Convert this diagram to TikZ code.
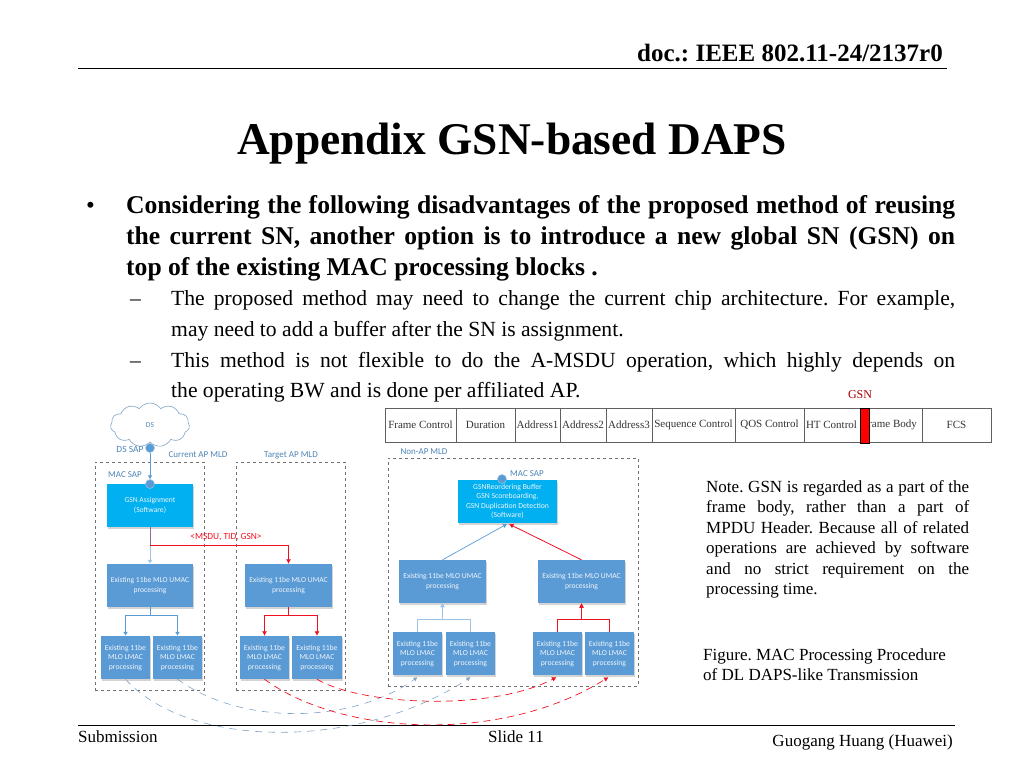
\documentclass[tikz,border=0pt]{standalone}
\usepackage{fontspec}
\setmainfont{Liberation Serif}
\newfontfamily\crl{Carlito}
\usetikzlibrary{shapes.symbols,shadows,arrows.meta}
\definecolor{bbox}{HTML}{5B9BD5}
\definecolor{cbox}{HTML}{00B0F0}
\definecolor{redl}{HTML}{F01020}
\definecolor{bludash}{HTML}{7FA3C7}
\definecolor{mgray}{HTML}{707070}
\definecolor{cgray}{HTML}{606060}
\definecolor{lbl}{HTML}{9DC3E6}
\tikzset{
 umac/.style={fill=bbox,text=white!90!bbox,inner sep=0pt,align=center,font=\crl\fontsize{7.6}{10}\selectfont,drop shadow={opacity=.35,shadow xshift=1pt,shadow yshift=-1.5pt}},
 softbox/.style={umac,fill=cbox},
 lmac/.style={umac,font=\crl\fontsize{7.7}{9.5}\selectfont},
 mld/.style={draw,color=mgray,dashed,line width=.8pt,inner sep=0pt},
 lab/.style={text=bbox!85!black,inner sep=0pt,font=\crl\fontsize{9}{10}\selectfont},
 sap/.style={circle,fill=bbox,draw=lbl,line width=.5pt,minimum size=9pt,inner sep=0pt},
 cell/.style={draw=cgray,line width=.8pt,fill=white,inner sep=0pt,text=black!80,font=\fontsize{11}{12}\selectfont},
 head/.style={anchor=base west,inner sep=0pt,font=\bfseries\fontsize{25.6}{28}\selectfont},
 sub/.style={anchor=base west,inner sep=0pt,font=\fontsize{21.6}{25}\selectfont},
 note/.style={anchor=base west,inner sep=0pt,font=\fontsize{17}{18}\selectfont},
 foot/.style={inner sep=0pt,font=\fontsize{17}{18}\selectfont},
 bline/.style={draw,color=bbox,line width=.9pt,-{Latex[length=4pt,width=5pt]}},
 lblue/.style={draw,color=lbl,line width=.9pt,-{Latex[length=4pt,width=5pt]}},
 rline/.style={draw,color=redl,line width=.8pt,-{Latex[length=4.5pt,width=5pt]}},
 bdash/.style={draw,color=bludash,line width=.6pt,dash pattern=on 7pt off 6pt,-{Latex[length=4pt,width=4.5pt]}},
 rdash/.style={draw,color=redl,line width=.7pt,dash pattern=on 7pt off 5pt,-{Latex[length=4.5pt,width=5pt]}},
}
\newcommand{\rb}[7]{\node[#6,minimum width={(#4-#2)*1pt},minimum height={(#5-#3)*1pt}] (#1) at ({(#2+#4)/2},{(#3+#5)/2}) {#7};}
\begin{document}
\frenchspacing
\begin{tikzpicture}[x=1pt,y=-1pt]
\useasboundingbox (0,0) rectangle (1024,768);
% header and footer
\node[anchor=base east,inner sep=0pt,font=\bfseries\fontsize{25}{28}\selectfont] (docid) at (943,62) {doc.: IEEE 802.11-24/2137r0};
\coordinate (hl) at (78,68); \coordinate (hr) at (947,68);
\draw[line width=1pt] (hl) -- (hr);
\node[anchor=base,inner sep=0pt,font=\bfseries\fontsize{45.4}{50}\selectfont] (title) at (512,154) {Appendix GSN-based DAPS};
\node[head,font=\fontsize{25}{28}\selectfont] (bul) at (86,213) {•};
\node[head] (l1) at (126,213) {\makebox[829pt][s]{Considering the following disadvantages of the proposed method of reusing}};
\node[head] (l2) at (126,244) {\makebox[829pt][s]{the current SN, another option is to introduce a new global SN (GSN) on}};
\node[head] (l3) at (126,275) {top of the existing MAC processing blocks .};
\node[sub] (d1) at (130,305) {–};
\node[sub] (s1) at (171,305) {\makebox[784pt][s]{The proposed method may need to change the current chip architecture. For example,}};
\node[sub] (s2) at (171,336) {may need to add a buffer after the SN is assignment.};
\node[sub] (d2) at (130,367) {–};
\node[sub] (s3) at (171,367) {\makebox[784pt][s]{This method is not flexible to do the A-MSDU operation, which highly depends on}};
\node[sub] (s4) at (171,397) {the operating BW and is done per affiliated AP.};
\coordinate (fl) at (78,725); \coordinate (fr) at (955,725);
\draw[line width=1pt] (fl) -- (fr);
\node[foot,anchor=base west] (subm) at (78,742) {Submission};
\node[foot,anchor=base west] (slide) at (488,742) {Slide 11};
\node[foot,anchor=base east] (auth) at (953,746) {Guogang Huang (Huawei)};
% frame format
\rb{f1}{385}{408}{456}{442}{cell}{Frame Control}
\rb{f2}{456}{408}{515}{442}{cell}{Duration}
\rb{f3}{515}{408}{560}{442}{cell}{Address1}
\rb{f4}{560}{408}{606}{442}{cell}{Address2}
\rb{f5}{606}{408}{652}{442}{cell}{Address3}
\rb{f6}{652}{408}{735}{442}{cell}{Sequence Control}
\rb{f7}{735}{408}{804}{442}{cell}{QOS Control}
\rb{f8}{804}{408}{864}{442}{cell}{\hspace{-5pt}HT Control}
\rb{f9}{864}{408}{922}{442}{cell}{\hspace{-7pt}Frame Body}
\rb{f10}{922}{408}{991}{442}{cell}{FCS}
\rb{gsnbar}{860}{408}{869}{443}{draw=black,line width=.8pt,fill=red}{}
\node[inner sep=0pt,text=red!65!black,font=\fontsize{12}{13}\selectfont] (gsnlab) at (860,395) {GSN};
% MLD frames
\rb{cur}{95}{462}{204}{690}{mld}{}
\rb{tar}{236}{462}{345}{690}{mld}{}
\rb{non}{388}{458}{638}{686}{mld}{}
\node[lab] (curl) at (198,455) {Current AP MLD};
\node[lab] (tarl) at (291,455) {Target AP MLD};
\node[lab] (nonl) at (424,452) {Non-AP MLD};
% cloud
\node[cloud,cloud puffs=11,cloud puff arc=110,aspect=1.8,draw,color=bludash,fill=white,line width=.6pt,minimum width=79pt,minimum height=44pt,inner sep=0pt,text=bbox!85!black,font=\crl\fontsize{7.5}{8}\selectfont] (ds) at (150,425) {DS};
% boxes
\rb{gsn}{107}{484}{193}{527}{softbox}{GSN Assignment\\(Software)}
\rb{u1}{107}{564}{193}{607}{umac}{Existing 11be MLO UMAC\\processing}
\rb{u2}{245}{564}{332}{607}{umac}{Existing 11be MLO UMAC\\processing}
\rb{a1}{101}{636}{150}{679}{lmac}{Existing 11be\\MLO LMAC\\processing}
\rb{a2}{153}{636}{202}{679}{lmac}{Existing 11be\\MLO LMAC\\processing}
\rb{a3}{240}{636}{289}{679}{lmac}{Existing 11be\\MLO LMAC\\processing}
\rb{a4}{292}{636}{342}{679}{lmac}{Existing 11be\\MLO LMAC\\processing}
\rb{reo}{458}{480}{557}{523}{softbox,font=\crl\fontsize{7.7}{9.4}\selectfont}{GSNReordering Buffer\\GSN Scoreboarding,\\GSN Duplication Detection\\(Software)}
\rb{u3}{399}{560}{486}{603}{umac}{Existing 11be MLO UMAC\\processing}
\rb{u4}{538}{560}{625}{603}{umac}{Existing 11be MLO UMAC\\processing}
\rb{b1}{393}{632}{442}{675}{lmac}{Existing 11be\\MLO LMAC\\processing}
\rb{b2}{446}{632}{495}{675}{lmac}{Existing 11be\\MLO LMAC\\processing}
\rb{b3}{533}{632}{582}{675}{lmac}{Existing 11be\\MLO LMAC\\processing}
\rb{b4}{585}{632}{634}{675}{lmac}{Existing 11be\\MLO LMAC\\processing}
% SAPs
\node[sap] (dssap) at (150,448) {};
\node[sap] (macsap) at (150,484) {};
\node[sap] (macsapn) at (502,479) {};
\node[lab,font=\crl\fontsize{9.5}{10}\selectfont] (dsl) at (130,449.5) {DS SAP};
\node[lab] (macl) at (125,475) {MAC SAP};
\node[lab] (macnl) at (527,474) {MAC SAP};
\node[inner sep=0pt,text=redl,font=\crl\fontsize{9.4}{10}\selectfont] (tup) at (226,537) {<MSDU, TID, GSN>};
% connectors
\draw[bline] (dssap) -- (macsap);
\draw[lblue] (gsn.south) -- (u1.north);
\draw[rline] (gsn.south) |- (150,545) -| (u2.north);
\draw[draw,color=bbox!70!red,line width=1pt] (gsn.south) -- (150,545);
\draw[bline] (u1.south) -- (150,615) -| (a1.north);
\draw[bline] (u1.south) -- (150,615) -| (a2.north);
\draw[rline] (u2.south) -- (288.5,615) -| (a3.north);
\draw[rline] (u2.south) -- (288.5,615) -| (a4.north);
\draw[lblue] (b1.north) |- (442.5,619) -- (u3.south);
\draw[lblue] (b2.north) |- (442.5,619) -- (u3.south);
\draw[rline] (b3.north) |- (581.5,619) -- (u4.south);
\draw[rline] (b4.north) |- (581.5,619) -- (u4.south);
\draw[bline,line width=.7pt] (u3.north) -- (507,524);
\draw[rline] (u4.north) -- (509,524);
\draw[bdash] (a1.south) .. controls (190,750) and (360,750) .. ([yshift=-2pt]b2.south);
\draw[bdash] (a2.south) .. controls (240,725) and (350,725) .. ([yshift=-2pt]b1.south);
\draw[rdash] (a3.south) .. controls (340,735) and (500,745) .. ([xshift=-1pt,yshift=-2pt]b4.south);
\draw[rdash] (a4.south) .. controls (360,705) and (490,712) .. ([xshift=-1pt,yshift=-2pt]b3.south);
% notes
\node[note] (n1) at (706,492) {\makebox[263pt][s]{Note. GSN is regarded as a part of the}};
\node[note] (n2) at (706,512) {\makebox[263pt][s]{frame body, rather than a part of}};
\node[note] (n3) at (706,533) {\makebox[263pt][s]{MPDU Header. Because all of related}};
\node[note] (n4) at (706,553) {\makebox[263pt][s]{operations are achieved by software}};
\node[note] (n5) at (706,574) {\makebox[263pt][s]{and no strict requirement on the}};
\node[note] (n6) at (706,594) {processing time.};
\node[note] (c1) at (703,660) {Figure. MAC Processing Procedure};
\node[note] (c2) at (703,680) {of DL DAPS-like Transmission};
\end{tikzpicture}
\end{document}
